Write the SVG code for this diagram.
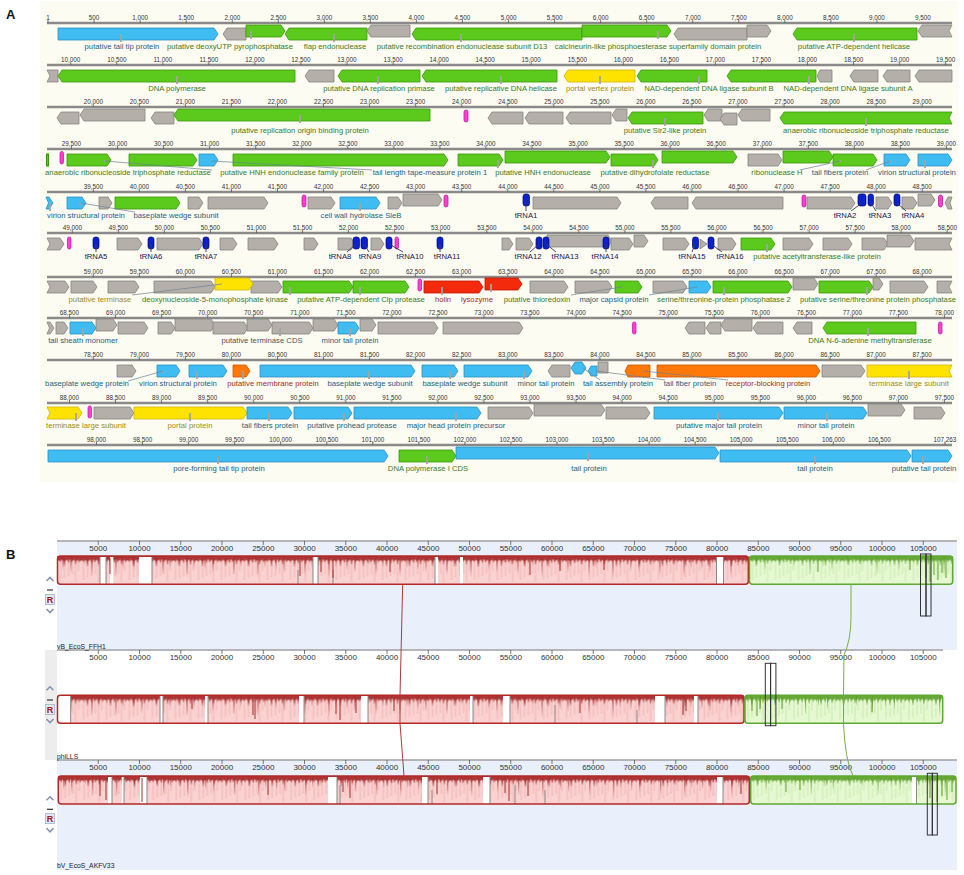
<svg xmlns="http://www.w3.org/2000/svg" width="964" height="875" viewBox="0 0 964 875">
<style>
text{font-family:"Liberation Sans",Arial,sans-serif}
.n{font-size:6.3px;fill:#333;text-anchor:middle}
.nb{font-size:8px;fill:#333;text-anchor:middle}
.l{font-size:7.7px;text-anchor:middle}
.lg{fill:#3b7b1c}.lb{fill:#25607f}.ly{fill:#9c8c10}.lr{fill:#a0301a}.lt{fill:#17174d}.lk{fill:#4a5560}
polygon{stroke-width:.8;stroke-linejoin:round}
.b{fill:#3fbdf2;stroke:#2a8fc4}.g{fill:#5cca1c;stroke:#3a980e}.k{fill:#b4b0a9;stroke:#878380}
.y{fill:#ffe300;stroke:#d2b400}.r{fill:#f42a0c;stroke:#c01800}.o{fill:#ff7808;stroke:#cc5600}
.m{fill:#ff3fd4;stroke:#b8109a;stroke-width:.7}.t{fill:#0b20cf;stroke:#00086a;stroke-width:.7}
.tk{stroke:#a3a3a3;stroke-width:1.8;fill:none}
.ld{stroke:#6a8396;stroke-width:.7;fill:none}
.tl{stroke:#3a3a58;stroke-width:.9;fill:none}
.rl{stroke:#8a8a8a;stroke-width:2.4}
.rt{stroke:#555;stroke-width:.8;fill:none}
.pk{fill:#fbd2d2}.lgn{fill:#e5f8d2}
.ro{fill:none;stroke:#b32828;stroke-width:1.5}.go{fill:none;stroke:#5fa830;stroke-width:1.5}
.gap{fill:#fff}.gl{stroke:#8a8a8a;stroke-width:1}
.bx{fill:none;stroke:#333;stroke-width:1}
.ch{fill:none;stroke:#8a90b4;stroke-width:1.6}
.rb{fill:#dfe8f7;stroke:#9aa6c0;stroke-width:.7}
.rr{font-size:9px;font-weight:bold;fill:#a31818;text-anchor:middle}
.tn{font-size:6.8px;fill:#222}
</style>
<defs>
<pattern id="pr1" width="23" height="29" patternUnits="userSpaceOnUse">
<path d="M3,7V24M11,8V20M18,10V26M7,12V22M15,5V18M21,4V15" stroke="#eda6a6" stroke-width=".7"/>
<path d="M0,0H23V4L22,7 21,3 20,5 19,4 18,10 17,3 16,5 15,4 14,7 13,3 12,4 11,8 10,3 9,5 8,4 7,12 6,4 5,5 4,3 3,7 2,4 1,5 0,4Z" fill="#ad3535"/>
</pattern>
<pattern id="pr2" width="71" height="29" patternUnits="userSpaceOnUse">
<path d="M5,0L5.6,14 6.3,0ZM13,0L13.6,17 14.3,0ZM20,0L20.5,8 21,0ZM27,0L27.5,9 28,0ZM34,0L34.6,20 35.3,0ZM41,0L41.5,12 42.2,0ZM49,0L49.5,10 50,0ZM58,0L58.6,22 59.2,0ZM65,0L65.5,13 66.1,0Z" fill="#a52e2e"/>
</pattern>
<pattern id="pg1" width="23" height="29" patternUnits="userSpaceOnUse">
<path d="M3,7V24M11,8V20M18,10V26M7,12V22M15,5V18M21,4V15" stroke="#bfe49c" stroke-width=".7"/>
<path d="M0,0H23V4L22,7 21,3 20,5 19,4 18,9 17,3 16,5 15,4 14,7 13,3 12,4 11,8 10,3 9,5 8,4 7,11 6,4 5,5 4,3 3,7 2,4 1,5 0,4Z" fill="#68a836"/>
</pattern>
<pattern id="pg2" width="67" height="29" patternUnits="userSpaceOnUse">
<path d="M6,0L6.6,12 7.2,0ZM15,0L15.6,15 16.3,0ZM30,0L30.5,9 31,0ZM44,0L44.5,11 45.2,0ZM60,0L60.6,20 61.2,0Z" fill="#5e9e2c"/>
</pattern>
</defs>
<rect width="964" height="875" fill="#fff"/>
<rect x="40" y="1" width="918" height="481" fill="#fcfcf3"/>
<text x="6" y="19" font-size="13" font-weight="bold" fill="#111">A</text>
<text x="6" y="559" font-size="13" font-weight="bold" fill="#111">B</text>

<!-- rulers panel A -->
<g id="rulers">
<path class="rl" d="M47,23H952M47,65H952M47,107H952M47,149H952M47,192H952M47,233H952M47,277H952M47,318H952M47,360H952M47,403H952M47,445H952"/>
<path class="rt" d="M48,20v3M94.1,20v3m46.05,-3v3m46.05,-3v3m46.05,-3v3m46.05,-3v3m46.05,-3v3m46.05,-3v3m46.05,-3v3m46.05,-3v3m46.05,-3v3m46.05,-3v3m46.05,-3v3m46.05,-3v3m46.05,-3v3m46.05,-3v3m46.05,-3v3m46.05,-3v3m46.05,-3v3
M70.7,62v3m46.05,-3v3m46.05,-3v3m46.05,-3v3m46.05,-3v3m46.05,-3v3m46.05,-3v3m46.05,-3v3m46.05,-3v3m46.05,-3v3m46.05,-3v3m46.05,-3v3m46.05,-3v3m46.05,-3v3m46.05,-3v3m46.05,-3v3m46.05,-3v3m46.05,-3v3m46.05,-3v3m46.05,-3v3
M93.3,104v3m46.05,-3v3m46.05,-3v3m46.05,-3v3m46.05,-3v3m46.05,-3v3m46.05,-3v3m46.05,-3v3m46.05,-3v3m46.05,-3v3m46.05,-3v3m46.05,-3v3m46.05,-3v3m46.05,-3v3m46.05,-3v3m46.05,-3v3m46.05,-3v3m46.05,-3v3m46.05,-3v3
M71.5,146v3m46.05,-3v3m46.05,-3v3m46.05,-3v3m46.05,-3v3m46.05,-3v3m46.05,-3v3m46.05,-3v3m46.05,-3v3m46.05,-3v3m46.05,-3v3m46.05,-3v3m46.05,-3v3m46.05,-3v3m46.05,-3v3m46.05,-3v3m46.05,-3v3m46.05,-3v3m46.05,-3v3m46.05,-3v3
M93.3,189v3m46.05,-3v3m46.05,-3v3m46.05,-3v3m46.05,-3v3m46.05,-3v3m46.05,-3v3m46.05,-3v3m46.05,-3v3m46.05,-3v3m46.05,-3v3m46.05,-3v3m46.05,-3v3m46.05,-3v3m46.05,-3v3m46.05,-3v3m46.05,-3v3m46.05,-3v3m46.05,-3v3
M72.3,230v3m46.05,-3v3m46.05,-3v3m46.05,-3v3m46.05,-3v3m46.05,-3v3m46.05,-3v3m46.05,-3v3m46.05,-3v3m46.05,-3v3m46.05,-3v3m46.05,-3v3m46.05,-3v3m46.05,-3v3m46.05,-3v3m46.05,-3v3m46.05,-3v3m46.05,-3v3m46.05,-3v3m46.05,-3v3
M93.3,274v3m46.05,-3v3m46.05,-3v3m46.05,-3v3m46.05,-3v3m46.05,-3v3m46.05,-3v3m46.05,-3v3m46.05,-3v3m46.05,-3v3m46.05,-3v3m46.05,-3v3m46.05,-3v3m46.05,-3v3m46.05,-3v3m46.05,-3v3m46.05,-3v3m46.05,-3v3m46.05,-3v3
M69.5,315v3m46.05,-3v3m46.05,-3v3m46.05,-3v3m46.05,-3v3m46.05,-3v3m46.05,-3v3m46.05,-3v3m46.05,-3v3m46.05,-3v3m46.05,-3v3m46.05,-3v3m46.05,-3v3m46.05,-3v3m46.05,-3v3m46.05,-3v3m46.05,-3v3m46.05,-3v3m46.05,-3v3m46.05,-3v3
M93.3,357v3m46.05,-3v3m46.05,-3v3m46.05,-3v3m46.05,-3v3m46.05,-3v3m46.05,-3v3m46.05,-3v3m46.05,-3v3m46.05,-3v3m46.05,-3v3m46.05,-3v3m46.05,-3v3m46.05,-3v3m46.05,-3v3m46.05,-3v3m46.05,-3v3m46.05,-3v3m46.05,-3v3
M69.5,400v3m46.05,-3v3m46.05,-3v3m46.05,-3v3m46.05,-3v3m46.05,-3v3m46.05,-3v3m46.05,-3v3m46.05,-3v3m46.05,-3v3m46.05,-3v3m46.05,-3v3m46.05,-3v3m46.05,-3v3m46.05,-3v3m46.05,-3v3m46.05,-3v3m46.05,-3v3m46.05,-3v3m46.05,-3v3
M96.5,442v3m46.05,-3v3m46.05,-3v3m46.05,-3v3m46.05,-3v3m46.05,-3v3m46.05,-3v3m46.05,-3v3m46.05,-3v3m46.05,-3v3m46.05,-3v3m46.05,-3v3m46.05,-3v3m46.05,-3v3m46.05,-3v3m46.05,-3v3m46.05,-3v3m46.05,-3v3M945,442v3"/>
<text class="n" y="19.5"><tspan x="48">1</tspan><tspan x="94.1">500</tspan><tspan x="140.2">1,000</tspan><tspan x="186.2">1,500</tspan><tspan x="232.3">2,000</tspan><tspan x="278.3">2,500</tspan><tspan x="324.4">3,000</tspan><tspan x="370.4">3,500</tspan><tspan x="416.5">4,000</tspan><tspan x="462.5">4,500</tspan><tspan x="508.6">5,000</tspan><tspan x="554.6">5,500</tspan><tspan x="600.7">6,000</tspan><tspan x="646.7">6,500</tspan><tspan x="692.8">7,000</tspan><tspan x="738.8">7,500</tspan><tspan x="784.9">8,000</tspan><tspan x="830.9">8,500</tspan><tspan x="877">9,000</tspan><tspan x="923">9,500</tspan></text>
<text class="n" y="61.5"><tspan x="70.7">10,000</tspan><tspan x="116.8">10,500</tspan><tspan x="162.8">11,000</tspan><tspan x="208.9">11,500</tspan><tspan x="254.9">12,000</tspan><tspan x="301">12,500</tspan><tspan x="347">13,000</tspan><tspan x="393.1">13,500</tspan><tspan x="439.1">14,000</tspan><tspan x="485.2">14,500</tspan><tspan x="531.2">15,000</tspan><tspan x="577.3">15,500</tspan><tspan x="623.3">16,000</tspan><tspan x="669.4">16,500</tspan><tspan x="715.4">17,000</tspan><tspan x="761.5">17,500</tspan><tspan x="807.5">18,000</tspan><tspan x="853.6">18,500</tspan><tspan x="899.6">19,000</tspan><tspan x="945.6">19,500</tspan></text>
<text class="n" y="103.5"><tspan x="93.3">20,000</tspan><tspan x="139.4">20,500</tspan><tspan x="185.4">21,000</tspan><tspan x="231.5">21,500</tspan><tspan x="277.5">22,000</tspan><tspan x="323.6">22,500</tspan><tspan x="369.6">23,000</tspan><tspan x="415.7">23,500</tspan><tspan x="461.7">24,000</tspan><tspan x="507.8">24,500</tspan><tspan x="553.8">25,000</tspan><tspan x="599.9">25,500</tspan><tspan x="645.9">26,000</tspan><tspan x="692">26,500</tspan><tspan x="738">27,000</tspan><tspan x="784.1">27,500</tspan><tspan x="830.1">28,000</tspan><tspan x="876.2">28,500</tspan><tspan x="922.2">29,000</tspan></text>
<text class="n" y="145.5"><tspan x="71.5">29,500</tspan><tspan x="117.6">30,000</tspan><tspan x="163.6">30,500</tspan><tspan x="209.7">31,000</tspan><tspan x="255.7">31,500</tspan><tspan x="301.8">32,000</tspan><tspan x="347.8">32,500</tspan><tspan x="393.9">33,000</tspan><tspan x="439.9">33,500</tspan><tspan x="486">34,000</tspan><tspan x="532">34,500</tspan><tspan x="578.1">35,000</tspan><tspan x="624.1">35,500</tspan><tspan x="670.2">36,000</tspan><tspan x="716.2">36,500</tspan><tspan x="762.3">37,000</tspan><tspan x="808.3">37,500</tspan><tspan x="854.4">38,000</tspan><tspan x="900.4">38,500</tspan><tspan x="946.5">39,000</tspan></text>
<text class="n" y="188.5"><tspan x="93.3">39,500</tspan><tspan x="139.4">40,000</tspan><tspan x="185.4">40,500</tspan><tspan x="231.5">41,000</tspan><tspan x="277.5">41,500</tspan><tspan x="323.6">42,000</tspan><tspan x="369.6">42,500</tspan><tspan x="415.7">43,000</tspan><tspan x="461.7">43,500</tspan><tspan x="507.8">44,000</tspan><tspan x="553.8">44,500</tspan><tspan x="599.9">45,000</tspan><tspan x="645.9">45,500</tspan><tspan x="692">46,000</tspan><tspan x="738">46,500</tspan><tspan x="784.1">47,000</tspan><tspan x="830.1">47,500</tspan><tspan x="876.2">48,000</tspan><tspan x="922.2">48,500</tspan></text>
<text class="n" y="229.5"><tspan x="72.3">49,000</tspan><tspan x="118.4">49,500</tspan><tspan x="164.4">50,000</tspan><tspan x="210.5">50,500</tspan><tspan x="256.5">51,000</tspan><tspan x="302.6">51,500</tspan><tspan x="348.6">52,000</tspan><tspan x="394.7">52,500</tspan><tspan x="440.7">53,000</tspan><tspan x="486.8">53,500</tspan><tspan x="532.8">54,000</tspan><tspan x="578.9">54,500</tspan><tspan x="624.9">55,000</tspan><tspan x="671">55,500</tspan><tspan x="717">56,000</tspan><tspan x="763.1">56,500</tspan><tspan x="809.1">57,000</tspan><tspan x="855.2">57,500</tspan><tspan x="901.2">58,000</tspan><tspan x="947.3">58,500</tspan></text>
<text class="n" y="273.5"><tspan x="93.3">59,000</tspan><tspan x="139.4">59,500</tspan><tspan x="185.4">60,000</tspan><tspan x="231.5">60,500</tspan><tspan x="277.5">61,000</tspan><tspan x="323.6">61,500</tspan><tspan x="369.6">62,000</tspan><tspan x="415.7">62,500</tspan><tspan x="461.7">63,000</tspan><tspan x="507.8">63,500</tspan><tspan x="553.8">64,000</tspan><tspan x="599.9">64,500</tspan><tspan x="645.9">65,000</tspan><tspan x="692">65,500</tspan><tspan x="738">66,000</tspan><tspan x="784.1">66,500</tspan><tspan x="830.1">67,000</tspan><tspan x="876.2">67,500</tspan><tspan x="922.2">68,000</tspan></text>
<text class="n" y="314.5"><tspan x="69.5">68,500</tspan><tspan x="115.6">69,000</tspan><tspan x="161.6">69,500</tspan><tspan x="207.7">70,000</tspan><tspan x="253.7">70,500</tspan><tspan x="299.8">71,000</tspan><tspan x="345.8">71,500</tspan><tspan x="391.9">72,000</tspan><tspan x="437.9">72,500</tspan><tspan x="484">73,000</tspan><tspan x="530">73,500</tspan><tspan x="576.1">74,000</tspan><tspan x="622.1">74,500</tspan><tspan x="668.2">75,000</tspan><tspan x="714.2">75,500</tspan><tspan x="760.3">76,000</tspan><tspan x="806.3">76,500</tspan><tspan x="852.4">77,000</tspan><tspan x="898.4">77,500</tspan><tspan x="944.5">78,000</tspan></text>
<text class="n" y="356.5"><tspan x="93.3">78,500</tspan><tspan x="139.4">79,000</tspan><tspan x="185.4">79,500</tspan><tspan x="231.5">80,000</tspan><tspan x="277.5">80,500</tspan><tspan x="323.6">81,000</tspan><tspan x="369.6">81,500</tspan><tspan x="415.7">82,000</tspan><tspan x="461.7">82,500</tspan><tspan x="507.8">83,000</tspan><tspan x="553.8">83,500</tspan><tspan x="599.9">84,000</tspan><tspan x="645.9">84,500</tspan><tspan x="692">85,000</tspan><tspan x="738">85,500</tspan><tspan x="784.1">86,000</tspan><tspan x="830.1">86,500</tspan><tspan x="876.2">87,000</tspan><tspan x="922.2">87,500</tspan></text>
<text class="n" y="399.5"><tspan x="69.5">88,000</tspan><tspan x="115.6">88,500</tspan><tspan x="161.6">89,000</tspan><tspan x="207.7">89,500</tspan><tspan x="253.7">90,000</tspan><tspan x="299.8">90,500</tspan><tspan x="345.8">91,000</tspan><tspan x="391.9">91,500</tspan><tspan x="437.9">92,000</tspan><tspan x="484">92,500</tspan><tspan x="530">93,000</tspan><tspan x="576.1">93,500</tspan><tspan x="622.1">94,000</tspan><tspan x="668.2">94,500</tspan><tspan x="714.2">95,000</tspan><tspan x="760.3">95,500</tspan><tspan x="806.3">96,000</tspan><tspan x="852.4">96,500</tspan><tspan x="898.4">97,000</tspan><tspan x="944.5">97,500</tspan></text>
<text class="n" y="441.5"><tspan x="96.5">98,000</tspan><tspan x="142.6">98,500</tspan><tspan x="188.6">99,000</tspan><tspan x="234.7">99,500</tspan><tspan x="280.7">100,000</tspan><tspan x="326.8">100,500</tspan><tspan x="372.8">101,000</tspan><tspan x="418.9">101,500</tspan><tspan x="464.9">102,000</tspan><tspan x="511">102,500</tspan><tspan x="557">103,000</tspan><tspan x="603.1">103,500</tspan><tspan x="649.1">104,000</tspan><tspan x="695.2">104,500</tspan><tspan x="741.2">105,000</tspan><tspan x="787.3">105,500</tspan><tspan x="833.3">106,000</tspan><tspan x="879.4">106,500</tspan><tspan x="945">107,263</tspan></text>
</g>

<!-- Row 1 -->
<g id="r1g1"><polygon class="b" points="58,28 214,28 218,34 214,40 58,40"/><path class="tk" d="M121,34v8"/><text class="l lb" x="122" y="49">putative tail tip protein</text></g>
<g id="r1g2"><polygon class="k" points="223,34 227,28 246,28 246,40 227,40"/></g>
<g id="r1g3"><polygon class="g" points="246,25 281,25 285,31 281,37 246,37"/><path class="tk" d="M251,31v8"/><text class="l lg" x="230" y="49">putative deoxyUTP pyrophosphatase</text></g>
<g id="r1g4"><polygon class="g" points="285,34 289,28 367,28 367,40 289,40"/><path class="tk" d="M334,34v8"/><text class="l lg" x="335" y="49">flap endonuclease</text></g>
<g id="r1g5"><polygon class="k" points="367,31 371,25 410,25 410,37 371,37"/></g>
<g id="r1g6"><polygon class="g" points="412,34 416,28 582,28 582,40 416,40"/><path class="tk" d="M461,34v8"/><text class="l lg" x="462" y="49">putative recombination endonuclease subunit D13</text></g>
<g id="r1g7"><polygon class="g" points="582,25 667,25 671,31 667,37 582,37"/><path class="tk" d="M658,31v8"/><text class="l lg" x="658" y="49">calcineurin-like phosphoesterase superfamily domain protein</text></g>
<g id="r1g8"><polygon class="k" points="674,34 678,28 747,28 747,40 678,40"/></g>
<g id="r1g9"><polygon class="k" points="747,25 767,25 771,31 767,37 747,37"/></g>
<g id="r1g10"><polygon class="g" points="793,34 797,28 917,28 917,40 797,40"/><path class="tk" d="M854,34v8"/><text class="l lg" x="854" y="49">putative ATP-dependent helicase</text></g>
<g id="r1g11"><polygon class="k" points="918,31 922,25 952,25 949,31 952,37 922,37"/></g>

<!-- Row 2 -->
<g id="r2g1"><polygon class="k" points="47,70 58,70 58,82 47,82 50,76"/></g>
<g id="r2g2"><polygon class="g" points="58,76 62,70 295,70 295,82 62,82"/><path class="tk" d="M177,76v8"/><text class="l lg" x="177" y="91">DNA polymerase</text></g>
<g id="r2g3"><polygon class="k" points="305,76 309,70 334,70 334,82 309,82"/></g>
<g id="r2g4"><polygon class="g" points="338,76 342,70 420,70 420,82 342,82"/><path class="tk" d="M378,76v8"/><text class="l lg" x="379" y="91">putative DNA replication primase</text></g>
<g id="r2g5"><polygon class="g" points="422,76 426,70 557,70 557,82 426,82"/><path class="tk" d="M501,76v8"/><text class="l lg" x="501" y="91">putative replicative DNA helicase</text></g>
<g id="r2g6"><polygon class="y" points="564,76 568,70 635,70 635,82 568,82"/><path class="tk" d="M600,76v8"/><text class="l ly" x="600" y="91">portal vertex protein</text></g>
<g id="r2g7"><polygon class="g" points="637,76 641,70 707,70 707,82 641,82"/><path class="tk" d="M699,76v8"/><text class="l lg" x="709" y="91">NAD-dependent DNA ligase subunit B</text></g>
<g id="r2g8"><polygon class="g" points="727,76 731,70 816,70 816,82 731,82"/><path class="tk" d="M809,76v8"/><text class="l lg" x="848" y="91">NAD-dependent DNA ligase subunit A</text></g>
<g id="r2g9"><polygon class="k" points="817,76 820,70 832,70 832,82 820,82"/></g>
<g id="r2g10"><polygon class="k" points="850,76 854,70 878,70 878,82 854,82"/></g>
<g id="r2g11"><polygon class="k" points="883,76 887,70 910,70 910,82 887,82"/></g>
<g id="r2g12"><polygon class="k" points="915,76 919,70 952,70 952,82 919,82"/></g>

<!-- Row 3 -->
<g id="r3g1"><polygon class="k" points="57,118 61,112 79,112 79,124 61,124"/></g>
<g id="r3g2"><polygon class="k" points="80,115 84,109 145,109 145,121 84,121"/></g>
<g id="r3g3"><polygon class="k" points="151,118 155,112 174,112 174,124 155,124"/></g>
<g id="r3g4"><polygon class="g" points="174,115 178,109 430,109 430,121 178,121"/><path class="tk" d="M300,115v8"/><text class="l lg" x="300" y="133">putative replication origin binding protein</text></g>
<g id="r3g5"><rect class="m" x="464" y="110" width="4" height="12" rx="2"/></g>
<g id="r3g6"><polygon class="k" points="488,118 492,112 523,112 523,124 492,124"/></g>
<g id="r3g7"><polygon class="k" points="525,118 529,112 563,112 563,124 529,124"/></g>
<g id="r3g8"><polygon class="k" points="566,118 570,112 611,112 611,124 570,124"/></g>
<g id="r3g9"><polygon class="k" points="612,115 616,109 627,109 627,121 616,121"/></g>
<g id="r3g10"><polygon class="g" points="628,118 632,112 703,112 703,124 632,124"/><path class="tk" d="M665,118v8"/><text class="l lg" x="665" y="133">putative Sir2-like protein</text></g>
<g id="r3g11"><polygon class="k" points="704,115 708,109 722,109 722,121 708,121"/></g>
<g id="r3g12"><polygon class="k" points="720,119 724,113 737,113 737,125 724,125"/></g>
<g id="r3g13"><polygon class="k" points="738,115 742,109 770,109 770,121 742,121"/></g>
<g id="r3g14"><polygon class="g" points="780,118 784,112 952,112 949,118 952,124 784,124"/><path class="tk" d="M866,118v8"/><text class="l lg" x="866" y="133">anaerobic ribonucleoside triphosphate reductase</text></g>

<!-- Row 4 -->
<g id="r4g0"><rect class="g" x="46.5" y="154" width="2" height="12"/></g>
<g id="r4g1"><rect class="m" x="60" y="151.5" width="3.5" height="12.5" rx="1.7"/></g>
<g id="r4g2"><polygon class="g" points="67,154 107,154 111,160 107,166 67,166"/><path class="tk" d="M105,160v2"/><text class="l lg" x="128" y="175">anaerobic ribonucleoside triphosphate reductase</text></g>
<g id="r4g3"><polygon class="g" points="129,154 193,154 197,160 193,166 129,166"/><text class="l lg" x="292" y="175">putative HNH endonuclease family protein</text></g>
<g id="r4g4"><polygon class="b" points="199,154 214,154 218,160 214,166 199,166"/><text class="l lb" x="430" y="175">tail length tape-measure protein 1</text></g>
<g id="r4g5"><polygon class="g" points="233,154 444,154 448,160 444,166 233,166"/></g>
<g id="r4g6"><polygon class="g" points="458,154 499,154 503,160 499,166 458,166"/><path class="tk" d="M498,160v8"/><text class="l lg" x="543" y="175">putative HNH endonuclease</text></g>
<g id="r4g7"><polygon class="g" points="505,151 606,151 610,157 606,163 505,163"/></g>
<g id="r4g8"><polygon class="g" points="611,154 654,154 658,160 654,166 611,166"/><path class="tk" d="M653,160v8"/><text class="l lg" x="655" y="175">putative dihydrofolate reductase</text></g>
<g id="r4g9"><polygon class="g" points="662,151 733,151 737,157 733,163 662,163"/></g>
<g id="r4g10"><polygon class="k" points="748,154 778,154 782,160 778,166 748,166"/></g>
<g id="r4g11"><polygon class="g" points="783,151 829,151 833,157 829,163 783,163"/></g>
<g id="r4g12"><polygon class="g" points="833,154 873,154 877,160 873,166 833,166"/><path class="tk" d="M840,160v2"/><text class="l lg" x="777" y="175">ribonuclease H</text></g>
<g id="r4g13"><polygon class="b" points="884,154 906,154 910,160 906,166 884,166"/><path class="tk" d="M890,160v2"/><text class="l lb" x="840" y="175">tail fibers protein</text></g>
<g id="r4g14"><polygon class="b" points="918,154 948,154 952,160 948,166 918,166"/><path class="tk" d="M925,160v8"/><text class="l lb" x="917" y="175">virion structural protein</text></g>

<!-- Row 5 -->
<g id="r5g1"><polygon class="b" points="46,197 49,197 53,203 49,209 46,209 48.5,203"/><path class="tk" d="M50,203v8"/><text class="l lb" x="86" y="218">virion structural protein</text></g>
<g id="r5g2"><polygon class="b" points="67,197 82,197 86,203 82,209 67,209"/><path class="tk" d="M80,203v2"/><text class="l lb" x="176" y="218">baseplate wedge subunit</text></g>
<g id="r5g3"><polygon class="k" points="99,197 108,197 112,203 108,209 99,209"/></g>
<g id="r5g4"><polygon class="g" points="115,197 176,197 180,203 176,209 115,209"/></g>
<g id="r5g5"><polygon class="k" points="188,197 199,197 203,203 199,209 188,209"/></g>
<g id="r5g6"><polygon class="k" points="208,197 264,197 268,203 264,209 208,209"/></g>
<g id="r5g7"><rect class="m" x="302" y="195" width="4" height="12" rx="2"/></g>
<g id="r5g8"><polygon class="k" points="308,197 331,197 335,203 331,209 308,209"/></g>
<g id="r5g9"><polygon class="b" points="340,197 376,197 380,203 376,209 340,209"/><path class="tk" d="M360,203v8"/><text class="l lb" x="361" y="218">cell wall hydrolase SleB</text></g>
<g id="r5g10"><polygon class="k" points="388,197 398,197 402,203 398,209 388,209"/></g>
<g id="r5g11"><polygon class="k" points="403,194 438,194 442,200 438,206 403,206"/></g>
<g id="r5g12"><rect class="m" x="444" y="195" width="4" height="12" rx="2"/></g>
<g id="r5g13"><rect class="t" x="523" y="194" width="6.5" height="12" rx="2.5"/><text class="l lt" x="526" y="218">tRNA1</text></g>
<g id="r5g14"><polygon class="k" points="533,197 617,197 621,203 617,209 533,209"/></g>
<g id="r5g15"><polygon class="k" points="651,203 655,197 688,197 688,209 655,209"/></g>
<g id="r5g16"><polygon class="k" points="692,203 696,197 783,197 783,209 696,209"/></g>
<g id="r5g17"><rect class="m" x="802" y="195" width="4" height="12" rx="2"/></g>
<g id="r5g18"><polygon class="k" points="807,197 851,197 855,203 851,209 807,209"/></g>
<g id="r5g21"><polygon class="k" points="876,197 888,197 892,203 888,209 876,209"/></g>
<g id="r5g23"><polygon class="k" points="902,197 913,197 917,203 913,209 902,209"/></g>
<g id="r5g19"><rect class="t" x="858" y="194" width="8" height="12" rx="2.5"/><text class="l lt" x="845" y="218">tRNA2</text></g>
<g id="r5g20"><rect class="t" x="868" y="194" width="5.5" height="12" rx="2.5"/><text class="l lt" x="880" y="218">tRNA3</text></g>
<g id="r5g22"><rect class="t" x="894" y="194" width="6" height="12" rx="2.5"/><text class="l lt" x="913" y="218">tRNA4</text></g>
<g id="r5g24"><polygon class="k" points="918,194 931,194 935,200 931,206 918,206"/></g>
<g id="r5g25"><rect class="m" x="938.5" y="195" width="4" height="12" rx="2"/></g>
<g id="r5g26"><polygon class="k" points="945,203 948,197 952,197 950,203 952,209 948,209"/></g>

<!-- Row 6 -->
<g id="r6g1"><polygon class="k" points="47,238 60,238 64,244 60,250 47,250 50,244"/></g>
<g id="r6g2"><rect class="m" x="67.5" y="237" width="3.5" height="12" rx="1.7"/></g>
<g id="r6g4"><polygon class="k" points="117,238 138,238 142,244 138,250 117,250"/></g>
<g id="r6g6"><polygon class="k" points="157,238 199,238 203,244 199,250 157,250"/></g>
<g id="r6g8"><polygon class="k" points="220,238 233,238 237,244 233,250 220,250"/></g>
<g id="r6g9"><polygon class="k" points="248,238 274,238 278,244 274,250 248,250"/></g>
<g id="r6g10"><polygon class="k" points="304,238 314,238 318,244 314,250 304,250"/></g>
<g id="r6g11"><polygon class="k" points="338,238 351,238 355,244 351,250 338,250"/></g>
<g id="r6g14"><polygon class="k" points="371,238 380,238 384,244 380,250 371,250"/></g>
<g id="r6g16"><rect class="m" x="395" y="237" width="3.5" height="12" rx="1.7"/></g>
<g id="r6g18"><polygon class="k" points="502,238 509,238 513,244 509,250 502,250"/></g>
<g id="r6g19"><polygon class="k" points="516,238 529,238 533,244 529,250 516,250"/></g>
<g id="r6g21"><polygon class="k" points="547,235 608,235 612,241 608,247 547,247"/></g>
<g id="r6g24"><polygon class="k" points="611,238 629,238 633,244 629,250 611,250"/></g>
<g id="r6g25"><polygon class="k" points="634,235 644,235 648,241 644,247 634,247"/></g>
<g id="r6g26"><polygon class="k" points="663,238 685,238 689,244 685,250 663,250"/></g>
<g id="r6g28"><polygon class="k" points="700,239 707,244 700,249"/></g>
<g id="r6g30"><polygon class="k" points="718,238 732,238 736,244 732,250 718,250"/></g>
<g id="r6g31"><polygon class="g" points="741,238 771,238 775,244 771,250 741,250"/><path class="tk" d="M767,244v8"/><text class="l lg" x="817" y="259">putative acetyltransferase-like protein</text></g>
<g id="r6g32"><polygon class="k" points="783,238 809,238 813,244 809,250 783,250"/></g>
<g id="r6g33"><polygon class="k" points="823,238 848,238 852,244 848,250 823,250"/></g>
<g id="r6g34"><polygon class="k" points="862,238 884,238 888,244 884,250 862,250"/></g>
<g id="r6g35"><polygon class="k" points="887,235 910,235 914,241 910,247 887,247"/></g>
<g id="r6g36"><polygon class="k" points="915,238 952,238 949,244 952,250 915,250"/></g>
<g id="r6g3"><rect class="t" x="93" y="237" width="6" height="12" rx="2.5"/><text class="l lt" x="96" y="259">tRNA5</text></g>
<g id="r6g5"><rect class="t" x="148" y="237" width="6" height="12" rx="2.5"/><text class="l lt" x="151" y="259">tRNA6</text></g>
<g id="r6g7"><rect class="t" x="203" y="237" width="6" height="12" rx="2.5"/><text class="l lt" x="206" y="259">tRNA7</text></g>
<g id="r6g12"><rect class="t" x="353" y="237" width="6.5" height="12" rx="2.5"/><text class="l lt" x="340" y="259">tRNA8</text></g>
<g id="r6g13"><rect class="t" x="361" y="237" width="6.5" height="12" rx="2.5"/><text class="l lt" x="370" y="259">tRNA9</text></g>
<g id="r6g15"><rect class="t" x="386" y="237" width="6" height="12" rx="2.5"/><text class="l lt" x="410" y="259">tRNA10</text></g>
<g id="r6g17"><rect class="t" x="437" y="237" width="6" height="12" rx="2.5"/><text class="l lt" x="447" y="259">tRNA11</text></g>
<g id="r6g20"><rect class="t" x="536" y="237" width="6" height="12" rx="2.5"/><text class="l lt" x="528" y="259">tRNA12</text></g>
<g id="r6g22"><rect class="t" x="543" y="237" width="6" height="12" rx="2.5"/><text class="l lt" x="565" y="259">tRNA13</text></g>
<g id="r6g23"><rect class="t" x="603" y="237" width="6" height="12" rx="2.5"/><text class="l lt" x="605" y="259">tRNA14</text></g>
<g id="r6g27"><rect class="t" x="692.5" y="237" width="6" height="12" rx="2.5"/><text class="l lt" x="692" y="259">tRNA15</text></g>
<g id="r6g29"><rect class="t" x="708" y="237" width="6" height="12" rx="2.5"/><text class="l lt" x="730" y="259">tRNA16</text></g>

<!-- Row 7 -->
<g id="r7g1"><polygon class="k" points="47,281 65,281 69,287 65,293 47,293 50,287"/></g>
<g id="r7g2"><polygon class="k" points="71,281 93,281 97,287 93,293 71,293"/></g>
<g id="r7g3"><polygon class="k" points="108,281 135,281 139,287 135,293 108,293"/></g>
<g id="r7g4"><polygon class="k" points="154,281 211,281 215,287 211,293 154,293"/></g>
<g id="r7g6"><polygon class="k" points="251,281 278,281 282,287 278,293 251,293"/></g>
<g id="r7g5"><polygon class="y" points="215,278 249,278 253,284 249,290 215,290"/><text class="l ly" x="100" y="302">putative terminase</text></g>
<g id="r7g7"><polygon class="g" points="283,281 349,281 353,287 349,293 283,293"/><path class="tk" d="M290,287v8"/><text class="l lg" x="215" y="302">deoxynucleoside-5-monophosphate kinase</text></g>
<g id="r7g8"><polygon class="g" points="353,281 405,281 409,287 405,293 353,293"/><path class="tk" d="M360,287v8"/><text class="l lg" x="361" y="302">putative ATP-dependent Clp protease</text></g>
<g id="r7g9"><rect class="m" x="418" y="279" width="3.5" height="12" rx="1.7"/></g>
<g id="r7g10"><polygon class="r" points="424,281 479,281 483,287 479,293 424,293"/><path class="tk" d="M442,287v8"/><text class="l lr" x="443" y="302">holin</text></g>
<g id="r7g11"><polygon class="r" points="485,278 518,278 522,284 518,290 485,290"/><path class="tk" d="M491,284v8"/><text class="l lr" x="477" y="302">lysozyme</text></g>
<g id="r7g12"><polygon class="k" points="530,281 564,281 568,287 564,293 530,293"/></g>
<g id="r7g13"><polygon class="k" points="575,281 608,281 612,287 608,293 575,293"/></g>
<g id="r7g14"><polygon class="g" points="615,281 638,281 642,287 638,293 615,293"/><text class="l lg" x="537" y="302">putative thioredoxin</text></g>
<g id="r7g15"><polygon class="k" points="653,281 683,281 687,287 683,293 653,293"/></g>
<g id="r7g16"><polygon class="b" points="689,281 707,281 711,287 707,293 689,293"/><text class="l lb" x="614" y="302">major capsid protein</text></g>
<g id="r7g17"><polygon class="g" points="713,281 788,281 792,287 788,293 713,293"/><path class="tk" d="M724,287v8"/><text class="l lg" x="724" y="302">serine/threonine-protein phosphatase 2</text></g>
<g id="r7g18"><polygon class="k" points="793,278 814,278 818,284 814,290 793,290"/></g>
<g id="r7g19"><polygon class="g" points="819,281 869,281 873,287 869,293 819,293"/><path class="tk" d="M867,287v8"/><text class="l lg" x="878" y="302">putative serine/threonine protein phosphatase</text></g>
<g id="r7g20"><polygon class="k" points="873,278 879,278 883,284 879,290 873,290"/></g>
<g id="r7g21"><polygon class="k" points="890,281 924,281 928,287 924,293 890,293"/></g>
<g id="r7g22"><polygon class="k" points="937,281 952,281 949,287 952,293 937,293"/></g>

<!-- Row 8 -->
<g id="r8g1"><polygon class="k" points="47,322 50,322 54,328 50,334 47,334 49.5,328"/></g>
<g id="r8g2"><polygon class="k" points="56,322 64,322 68,328 64,334 56,334"/></g>
<g id="r8g3"><polygon class="b" points="70,322 92,322 96,328 92,334 70,334"/><path class="tk" d="M83,328v8"/><text class="l lb" x="83" y="343">tail sheath monomer</text></g>
<g id="r8g4"><polygon class="k" points="96,319 113,319 117,325 113,331 96,331"/></g>
<g id="r8g5"><polygon class="k" points="118,322 144,322 148,328 144,334 118,334"/></g>
<g id="r8g6"><polygon class="k" points="158,322 171,322 175,328 171,334 158,334"/></g>
<g id="r8g7"><polygon class="k" points="175,319 211,319 215,325 211,331 175,331"/></g>
<g id="r8g8"><polygon class="k" points="213,322 244,322 248,328 244,334 213,334"/></g>
<g id="r8g9"><polygon class="k" points="247,319 268,319 272,325 268,331 247,331"/></g>
<g id="r8g10"><polygon class="k" points="272,322 309,322 313,328 309,334 272,334"/><path class="tk" d="M280,328v8"/><text class="l lk" x="262" y="343">putative terminase CDS</text></g>
<g id="r8g11"><polygon class="k" points="313,319 334,319 338,325 334,331 313,331"/></g>
<g id="r8g12"><polygon class="b" points="338,322 355,322 359,328 355,334 338,334"/><path class="tk" d="M350,328v8"/><text class="l lb" x="350" y="343">minor tail protein</text></g>
<g id="r8g13"><polygon class="k" points="360,319 372,319 376,325 372,331 360,331"/></g>
<g id="r8g14"><polygon class="k" points="378,322 434,322 438,328 434,334 378,334"/></g>
<g id="r8g15"><polygon class="k" points="443,322 519,322 523,328 519,334 443,334"/></g>
<g id="r8g16"><rect class="m" x="632.5" y="322" width="3.5" height="12" rx="1.7"/></g>
<g id="r8g17"><polygon class="k" points="685,328 689,322 705,322 705,334 689,334"/></g>
<g id="r8g18"><polygon class="k" points="706,328 710,322 721,322 721,334 710,334"/></g>
<g id="r8g19"><polygon class="k" points="721,325 725,319 752,319 752,331 725,331"/></g>
<g id="r8g20"><polygon class="k" points="753,328 757,322 783,322 783,334 757,334"/></g>
<g id="r8g21"><polygon class="k" points="793,328 797,322 812,322 812,334 797,334"/></g>
<g id="r8g22"><polygon class="g" points="823,328 827,322 916,322 916,334 827,334"/><path class="tk" d="M868,328v8"/><text class="l lg" x="870" y="343">DNA N-6-adenine methyltransferase</text></g>
<g id="r8g23"><rect class="m" x="938.5" y="322" width="3.5" height="12" rx="1.7"/></g>

<!-- Row 9 -->
<g id="r9g1"><polygon class="k" points="117,365 132,365 136,371 132,377 117,377"/></g>
<g id="r9g2"><polygon class="b" points="157,365 176,365 180,371 176,377 157,377"/><path class="tk" d="M163,371v2"/><text class="l lb" x="87" y="386">baseplate wedge protein</text></g>
<g id="r9g3"><polygon class="b" points="189,365 223,365 227,371 223,377 189,377"/><path class="tk" d="M197,371v8"/><text class="l lb" x="178" y="386">virion structural protein</text></g>
<g id="r9g4"><polygon class="o" points="233,365 246,365 250,371 246,377 233,377"/><path class="tk" d="M243,371v8"/><text class="l lr" x="273" y="386">putative membrane protein</text></g>
<g id="r9g5"><polygon class="b" points="260,365 411,365 415,371 411,377 260,377"/><path class="tk" d="M369,371v8"/><text class="l lb" x="370" y="386">baseplate wedge subunit</text></g>
<g id="r9g6"><polygon class="b" points="422,365 454,365 458,371 454,377 422,377"/><path class="tk" d="M450,371v8"/><text class="l lb" x="465" y="386">baseplate wedge subunit</text></g>
<g id="r9g7"><polygon class="b" points="464,365 528,365 532,371 528,377 464,377"/><path class="tk" d="M524,371v8"/><text class="l lb" x="546" y="386">minor tail protein</text></g>
<g id="r9g8"><polygon class="k" points="548,371 552,365 570,365 570,377 552,377"/></g>
<g id="r9g9"><polygon class="b" points="571,368 575,362 582,362 586,368 582,374 575,374"/><text class="l lb" x="618" y="386">tail assembly protein</text></g>
<g id="r9g10"><polygon class="b" points="588,371 591,366 597,366 597,376 591,376"/><text class="l lb" x="690" y="386">tail fiber protein</text></g>
<g id="r9g11"><polygon class="k" points="598,362 608,362 608,373 598,373"/></g>
<g id="r9g12"><polygon class="o" points="625,371 628,365 650,365 650,377 628,377"/></g>
<g id="r9g13"><polygon class="o" points="657,365 816,365 820,371 816,377 657,377"/><text class="l lr" x="768" y="386">receptor-blocking protein</text></g>
<g id="r9g14"><polygon class="k" points="822,365 861,365 865,371 861,377 822,377"/></g>
<g id="r9g15"><polygon class="y" points="867,365 952,365 949,371 952,377 867,377"/><path class="tk" d="M909,371v8"/><text class="l ly" x="909" y="386">terminase large subunit</text></g>

<!-- Row 10 -->
<g id="r10g1"><polygon class="y" points="47,407 78,407 82,413 78,419 47,419 50,413"/><path class="tk" d="M76,413v8"/><text class="l ly" x="86" y="428">terminase large subunit</text></g>
<g id="r10g2"><rect class="m" x="88" y="406" width="3.5" height="12" rx="1.7"/></g>
<g id="r10g3"><polygon class="k" points="94,407 130,407 134,413 130,419 94,419"/></g>
<g id="r10g4"><polygon class="y" points="134,407 243,407 247,413 243,419 134,419"/><path class="tk" d="M190,413v8"/><text class="l ly" x="190" y="428">portal protein</text></g>
<g id="r10g5"><polygon class="b" points="247,407 288,407 292,413 288,419 247,419"/><path class="tk" d="M269,413v8"/><text class="l lb" x="270" y="428">tail fibers protein</text></g>
<g id="r10g6"><polygon class="b" points="294,407 348,407 352,413 348,419 294,419"/><path class="tk" d="M344,413v8"/><text class="l lb" x="352" y="428">putative prohead protease</text></g>
<g id="r10g7"><polygon class="b" points="354,407 477,407 481,413 477,419 354,419"/><path class="tk" d="M456,413v8"/><text class="l lb" x="456" y="428">major head protein precursor</text></g>
<g id="r10g8"><polygon class="k" points="488,407 529,407 533,413 529,419 488,419"/></g>
<g id="r10g9"><polygon class="k" points="534,404 601,404 605,410 601,416 534,416"/></g>
<g id="r10g10"><polygon class="k" points="606,407 646,407 650,413 646,419 606,419"/></g>
<g id="r10g11"><polygon class="b" points="654,407 779,407 783,413 779,419 654,419"/><path class="tk" d="M718,413v8"/><text class="l lb" x="719" y="428">putative major tail protein</text></g>
<g id="r10g12"><polygon class="b" points="784,407 863,407 867,413 863,419 784,419"/><path class="tk" d="M827,413v8"/><text class="l lb" x="826" y="428">minor tail protein</text></g>
<g id="r10g13"><polygon class="k" points="868,404 901,404 905,410 901,416 868,416"/></g>
<g id="r10g14"><polygon class="k" points="914,407 941,407 945,413 941,419 914,419"/></g>

<!-- Row 11 -->
<g id="r11g1"><polygon class="b" points="48,450 384,450 388,456 384,462 48,462"/><path class="tk" d="M218,456v8"/><text class="l lb" x="219" y="471">pore-forming tail tip protein</text></g>
<g id="r11g2"><polygon class="g" points="399,450 452,450 456,456 452,462 399,462"/><path class="tk" d="M427,456v8"/><text class="l lg" x="428" y="471">DNA polymerase I CDS</text></g>
<g id="r11g3"><polygon class="b" points="456,447 715,447 719,453 715,459 456,459"/><path class="tk" d="M588,453v8"/><text class="l lb" x="589" y="471">tail protein</text></g>
<g id="r11g4"><polygon class="b" points="720,450 907,450 911,456 907,462 720,462"/><path class="tk" d="M815,456v8"/><text class="l lb" x="815" y="471">tail protein</text></g>
<g id="r11g5"><polygon class="b" points="912,450 948,450 952,456 948,462 912,462"/><path class="tk" d="M923,456v8"/><text class="l lb" x="924" y="471">putative tail protein</text></g>

<!-- Panel B -->
<g id="panelB-bg">
<rect x="57" y="541" width="900" height="109" fill="#e9f0fc"/>
<rect x="45" y="650" width="12" height="110" fill="#ededed"/>
<rect x="57" y="760" width="900" height="110" fill="#e9f0fc"/>
<path d="M57,541H957M57,650H943M57,760H957" stroke="#a0a0a0" stroke-width="1.5"/>
</g>
<g id="rulersB">
<path class="rt" d="M98.25,541v4m41.25,-4v4m41.25,-4v4m41.25,-4v4m41.25,-4v4m41.25,-4v4m41.25,-4v4m41.25,-4v4m41.25,-4v4m41.25,-4v4m41.25,-4v4m41.25,-4v4m41.25,-4v4m41.25,-4v4m41.25,-4v4m41.25,-4v4m41.25,-4v4m41.25,-4v4m41.25,-4v4m41.25,-4v4m41.25,-4v4
M98.25,650v4m41.25,-4v4m41.25,-4v4m41.25,-4v4m41.25,-4v4m41.25,-4v4m41.25,-4v4m41.25,-4v4m41.25,-4v4m41.25,-4v4m41.25,-4v4m41.25,-4v4m41.25,-4v4m41.25,-4v4m41.25,-4v4m41.25,-4v4m41.25,-4v4m41.25,-4v4m41.25,-4v4m41.25,-4v4m41.25,-4v4
M98.25,760v4m41.25,-4v4m41.25,-4v4m41.25,-4v4m41.25,-4v4m41.25,-4v4m41.25,-4v4m41.25,-4v4m41.25,-4v4m41.25,-4v4m41.25,-4v4m41.25,-4v4m41.25,-4v4m41.25,-4v4m41.25,-4v4m41.25,-4v4m41.25,-4v4m41.25,-4v4m41.25,-4v4m41.25,-4v4m41.25,-4v4"/>
<text class="nb" y="550.5"><tspan x="98.25">5000</tspan><tspan x="139.5">10000</tspan><tspan x="180.75">15000</tspan><tspan x="222">20000</tspan><tspan x="263.25">25000</tspan><tspan x="304.5">30000</tspan><tspan x="345.75">35000</tspan><tspan x="387">40000</tspan><tspan x="428.25">45000</tspan><tspan x="469.5">50000</tspan><tspan x="510.75">55000</tspan><tspan x="552">60000</tspan><tspan x="593.25">65000</tspan><tspan x="634.5">70000</tspan><tspan x="675.75">75000</tspan><tspan x="717">80000</tspan><tspan x="758.25">85000</tspan><tspan x="799.5">90000</tspan><tspan x="840.75">95000</tspan><tspan x="882">100000</tspan><tspan x="923.25">105000</tspan></text>
<text class="nb" y="659.5"><tspan x="98.25">5000</tspan><tspan x="139.5">10000</tspan><tspan x="180.75">15000</tspan><tspan x="222">20000</tspan><tspan x="263.25">25000</tspan><tspan x="304.5">30000</tspan><tspan x="345.75">35000</tspan><tspan x="387">40000</tspan><tspan x="428.25">45000</tspan><tspan x="469.5">50000</tspan><tspan x="510.75">55000</tspan><tspan x="552">60000</tspan><tspan x="593.25">65000</tspan><tspan x="634.5">70000</tspan><tspan x="675.75">75000</tspan><tspan x="717">80000</tspan><tspan x="758.25">85000</tspan><tspan x="799.5">90000</tspan><tspan x="840.75">95000</tspan><tspan x="882">100000</tspan><tspan x="923.25">105000</tspan></text>
<text class="nb" y="769.5"><tspan x="98.25">5000</tspan><tspan x="139.5">10000</tspan><tspan x="180.75">15000</tspan><tspan x="222">20000</tspan><tspan x="263.25">25000</tspan><tspan x="304.5">30000</tspan><tspan x="345.75">35000</tspan><tspan x="387">40000</tspan><tspan x="428.25">45000</tspan><tspan x="469.5">50000</tspan><tspan x="510.75">55000</tspan><tspan x="552">60000</tspan><tspan x="593.25">65000</tspan><tspan x="634.5">70000</tspan><tspan x="675.75">75000</tspan><tspan x="717">80000</tspan><tspan x="758.25">85000</tspan><tspan x="799.5">90000</tspan><tspan x="840.75">95000</tspan><tspan x="882">100000</tspan><tspan x="923.25">105000</tspan></text>
</g>

<g id="track1">
<rect class="pk" x="57.5" y="556" width="690.8" height="28.3" rx="3"/>
<rect class="lgn" x="749.5" y="556" width="203.2" height="28.3" rx="3"/>
<g transform="translate(57.5,556)"><rect width="690.8" height="28.3" fill="url(#pr1)"/><rect width="690.8" height="28.3" fill="url(#pr2)"/></g>
<g transform="translate(749.5,556)"><rect width="203.2" height="28.3" fill="url(#pg1)"/><rect width="203.2" height="28.3" fill="url(#pg2)"/></g>
<path class="gap" d="M100,557h6v27h-6zM110,557h3.3v27h-3.3zM139,557h13v27h-13zM313,557h5v27h-5zM435,557h3v27h-3zM460,557h3v27h-3zM717,557h6v27h-6z"/>
<path class="gl" d="M100,557v27M106,557v27M152,557v27M313,557v27M318,557v27M435,557v27M716.5,557v27M723.5,557v27M298,570v14M333,570v14"/>
<path d="M110,558v16M300,558v18M321,558v14M333,558v20M390,558v14M530,558v17M560,558v13M604,558v12" stroke="#a52e2e" stroke-width="1"/>
<path d="M926,558v20M930,558v24M934,558v17M938,558v22M942,558v15M946,558v20M818,558v14M910,558v12" stroke="#5e9e2c" stroke-width="1"/>
<rect class="ro" x="57.5" y="556" width="690.8" height="28.3" rx="3"/>
<rect class="go" x="749.5" y="556" width="203.2" height="28.3" rx="3"/>
<rect class="bx" x="920.5" y="554" width="5.5" height="62"/><rect class="bx" x="926" y="554" width="5" height="62"/>
<path class="ch" d="M46.5,581L50,577.5 53.5,581"/><path d="M47,590H53" stroke="#333" stroke-width="1.2"/>
<rect class="rb" x="45.5" y="594.5" width="9" height="10"/><text class="rr" x="50" y="603">R</text>
<path class="ch" d="M46.5,609L50,612.5 53.5,609"/>
<text class="tn" x="57" y="649">vB_EcoS_FFH1</text>
</g>

<g id="track2">
<rect class="pk" x="57.5" y="695.3" width="686.5" height="28" rx="3"/>
<rect class="lgn" x="745" y="695.3" width="197.7" height="28" rx="3"/>
<g transform="translate(57.5,695.3)"><rect width="686.5" height="28" fill="url(#pr1)"/><rect width="686.5" height="28" fill="url(#pr2)"/></g>
<g transform="translate(745,695.3)"><rect width="197.7" height="28" fill="url(#pg1)"/><rect width="197.7" height="28" fill="url(#pg2)"/></g>
<path class="gap" d="M58,696h12.7v27h-12.7zM160,696h3v27h-3zM205,696h3v27h-3zM299,696h5v27h-5zM361,696h7v27h-7zM470,696h3v27h-3zM503,696h7v27h-7zM655,696h10v27h-10zM694,696h4v27h-4z"/>
<path class="gl" d="M70.7,696v27M160,696v27M163,696v27M208,696v27M304,696v27M368,696v27M473,696v27M510,696v27M665,696v27M698,696v27M555,705v18M637,710v13"/>
<path d="M192,697v12M253,697v18M255,697v22M336,697v17M340,697v23M356,697v16M394,697v14M580,697v16M683,697v18M686,697v14" stroke="#a52e2e" stroke-width="1"/>
<path d="M752,697v14M757,697v19M760,697v12M872,697v15M782,697v12" stroke="#5e9e2c" stroke-width="1"/>
<rect class="ro" x="57.5" y="695.3" width="686.5" height="28" rx="3"/>
<rect class="go" x="745" y="695.3" width="197.7" height="28" rx="3"/>
<rect class="bx" x="765.3" y="663.3" width="5.3" height="62.4"/><rect class="bx" x="770.6" y="663.3" width="5.3" height="62.4"/>
<path class="ch" d="M46.5,690.3L50,686.8 53.5,690.3"/><path d="M47,700H53" stroke="#333" stroke-width="1.2"/>
<rect class="rb" x="45.5" y="704.5" width="9" height="10"/><text class="rr" x="50" y="713">R</text>
<path class="ch" d="M46.5,719L50,722.5 53.5,719"/>
<text class="tn" x="57" y="759">phiLLS</text>
</g>

<g id="track3">
<rect class="pk" x="58.3" y="776" width="691" height="28" rx="3"/>
<rect class="lgn" x="750.7" y="776" width="205.3" height="28" rx="3"/>
<g transform="translate(58.3,776)"><rect width="691" height="28" fill="url(#pr1)"/><rect width="691" height="28" fill="url(#pr2)"/></g>
<g transform="translate(750.7,776)"><rect width="205.3" height="28" fill="url(#pg1)"/><rect width="205.3" height="28" fill="url(#pg2)"/></g>
<path class="gap" d="M108,777h4v27h-4zM121.7,777h2.3v27h-2.3zM140,777h7v27h-7zM328,777h9v27h-9zM422,777h6v27h-6zM483,777h7v27h-7zM717,777h6v27h-6zM912,777h4.5v27h-4.5z"/>
<path class="gl" d="M112,777v27M124,777v27M147,777v27M337,777v27M428,777v27M490,777v27M723,777v27M916.5,777v27M340,785v19M432,790v14M515,785v19M545,790v14"/>
<path d="M100,778v18M106,778v22M142,778v24M268,778v17M343,778v14M350,778v20M437,778v16M505,778v15M509,778v23M528,778v18M741,778v16" stroke="#a52e2e" stroke-width="1"/>
<path d="M930,778v20M937,778v24M942,778v18M947,778v22M952,778v14M786,778v14M800,778v12" stroke="#5e9e2c" stroke-width="1"/>
<rect class="ro" x="58.3" y="776" width="691" height="28" rx="3"/>
<rect class="go" x="750.7" y="776" width="205.3" height="28" rx="3"/>
<rect class="bx" x="927.3" y="773.3" width="5" height="61.7"/><rect class="bx" x="932.3" y="773.3" width="5" height="61.7"/>
<path class="ch" d="M46.5,800.3L50,796.8 53.5,800.3"/><path d="M47,809.3H53" stroke="#333" stroke-width="1.2"/>
<rect class="rb" x="45.5" y="813.7" width="9" height="10"/><text class="rr" x="50" y="822.2">R</text>
<path class="ch" d="M46.5,828.3L50,831.8 53.5,828.3"/>
<text class="tn" x="57" y="868">bV_EcoS_AKFV33</text>
</g>

<!-- connectors -->
<g id="connectors">
<path class="ld" d="M105,161L212,170M211,161L372,170M840,161L800,170M890,161L866,170"/>
<path class="ld" d="M81,203L135,212M222,284L132,295M622,287L571,295M697,287L649,295M163,371L128,381M583,368L600,380M596,371L665,380M643,371L728,380"/>
<path class="tl" d="M526,200V211M862,203L851,211M871,203L876,211M897,203L906,211M96,244V252M151,244V252M206,244V252M356,244L347,252M364,244L369,252M389,244L403,252M440,244V252M539,244L530,252M546,244L556,252M606,244V252M695,244L692,252M711,244L722,252"/>
<path d="M402.7,584.3L400,695.3L400,723.3L404,776" fill="none" stroke="#b23a3a" stroke-width="1"/>
<path d="M851,584.3L851,617Q851,640 844,655L843.5,695.3L843.5,723.3Q845,760 853,776" fill="none" stroke="#78b040" stroke-width="1"/>
</g>
</svg>
